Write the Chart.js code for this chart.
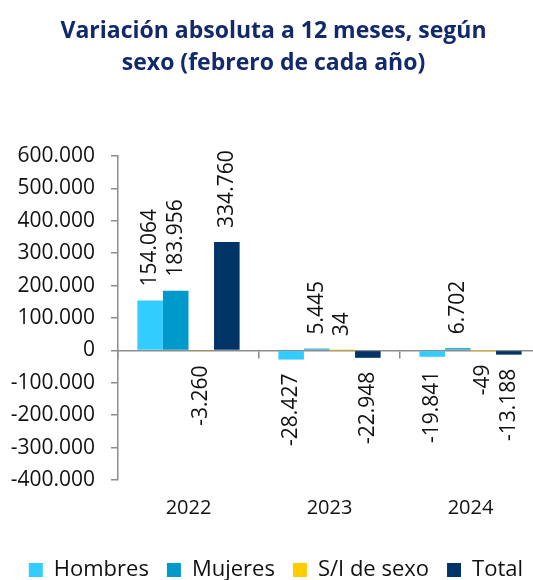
<!DOCTYPE html>
<html>
<head>
<meta charset="utf-8">
<script src="https://cdn.jsdelivr.net/npm/chart.js@4.4.1/dist/chart.umd.min.js"></script>
<style>
  html, body { margin: 0; padding: 0; background: #fff; overflow: hidden; }
  #wrap { width: 541px; height: 591px; }
</style>
</head>
<body>
<div id="wrap"><canvas id="chart"></canvas></div>
<script>
// datos
const years = ["2022", "2023", "2024"];
const hombres = [154064, -28427, -19841];
const mujeres = [183956, 5445, 6702];
const sinSexo = [-3260, 34, -49];
const total = [334760, -22948, -13188];
const seriesNames = ["Hombres", "Mujeres", "S/I de sexo", "Total"];
const seriesColors = ["#33CCFF", "#0099CC", "#FFCC00", "#003366"];
const yMin = -400000;
const yMax = 600000;
const yStep = 100000;

const FONT = "'Open Sans'";

// 154064 -> "154.064"
function fmt(v) {
  let s = Math.abs(v).toString().replace(/\B(?=(\d{3})+(?!\d))/g, ".");
  return (v < 0 ? "-" : "") + s;
}

// etiquetas de valor giradas 90°
const valueLabels = {
  id: "valueLabels",
  afterDatasetsDraw(chart) {
    const ctx = chart.ctx;
    ctx.save();
    ctx.font = "21px " + FONT;
    ctx.fillStyle = "#111";
    ctx.textBaseline = "middle";
    chart.data.datasets.forEach((ds, i) => {
      const meta = chart.getDatasetMeta(i);
      meta.data.forEach((bar, j) => {
        const v = ds.data[j];
        ctx.save();
        ctx.translate(bar.x, bar.y);
        ctx.rotate(-Math.PI / 2);
        if (v >= 0) {
          ctx.textAlign = "left";
          ctx.fillText(fmt(v), 14, 0);
        } else {
          ctx.textAlign = "right";
          ctx.fillText(fmt(v), -14, 0);
        }
        ctx.restore();
      });
    });
    ctx.restore();
  }
};

const datasets = [hombres, mujeres, sinSexo, total].map((d, i) => ({
  label: seriesNames[i],
  data: d,
  backgroundColor: seriesColors[i],
  borderWidth: 0,
  categoryPercentage: 0.725,
  barPercentage: 1
}));

new Chart(document.getElementById("chart"), {
  type: "bar",
  data: { labels: years, datasets: datasets },
  plugins: [valueLabels],
  options: {
    responsive: true,
    maintainAspectRatio: false,
    animation: false,
    layout: { padding: { left: 6, right: 0, top: 0, bottom: 0 } },
    plugins: {
      title: {
        display: true,
        text: ["Variación absoluta a 12 meses, según", "sexo (febrero de cada año)"],
        color: "#12296B",
        font: { family: FONT, size: 23, weight: "bold", lineHeight: 1.39 },
        padding: { top: 15, bottom: 77 }
      },
      legend: {
        position: "bottom",
        align: "end",
        labels: {
          color: "#111",
          font: { family: FONT, size: 22 },
          boxWidth: 14,
          boxHeight: 14,
          padding: 18
        }
      },
      tooltip: { enabled: false }
    },
    scales: {
      x: {
        position: { y: 0 },
        offset: true,
        grid: {
          display: true,
          offset: true,
          drawOnChartArea: false,
          drawTicks: true,
          tickLength: 7,
          color: "#8c8c8c",
          lineWidth: 1.5
        },
        border: { display: true, color: "#8c8c8c", width: 1.5 },
        ticks: { display: false }
      },
      xb: {
        type: "category",
        position: "bottom",
        offset: true,
        grid: { display: false },
        border: { display: false },
        ticks: {
          color: "#111",
          font: { family: FONT, size: 20 },
          padding: 8
        },
        afterFit: (scale) => { scale.height += 13; }
      },
      y: {
        min: yMin,
        max: yMax,
        grid: {
          display: true,
          drawOnChartArea: false,
          drawTicks: true,
          tickLength: 7,
          color: "#8c8c8c",
          lineWidth: 1.5
        },
        border: { display: true, color: "#8c8c8c", width: 1.5 },
        ticks: {
          stepSize: yStep,
          color: "#111",
          font: { family: FONT, size: 21 },
          padding: 16,
          callback: (v) => fmt(v)
        },
        afterFit: (scale) => { scale.width = 112; }
      }
    }
  }
});
</script>
</body>
</html>
